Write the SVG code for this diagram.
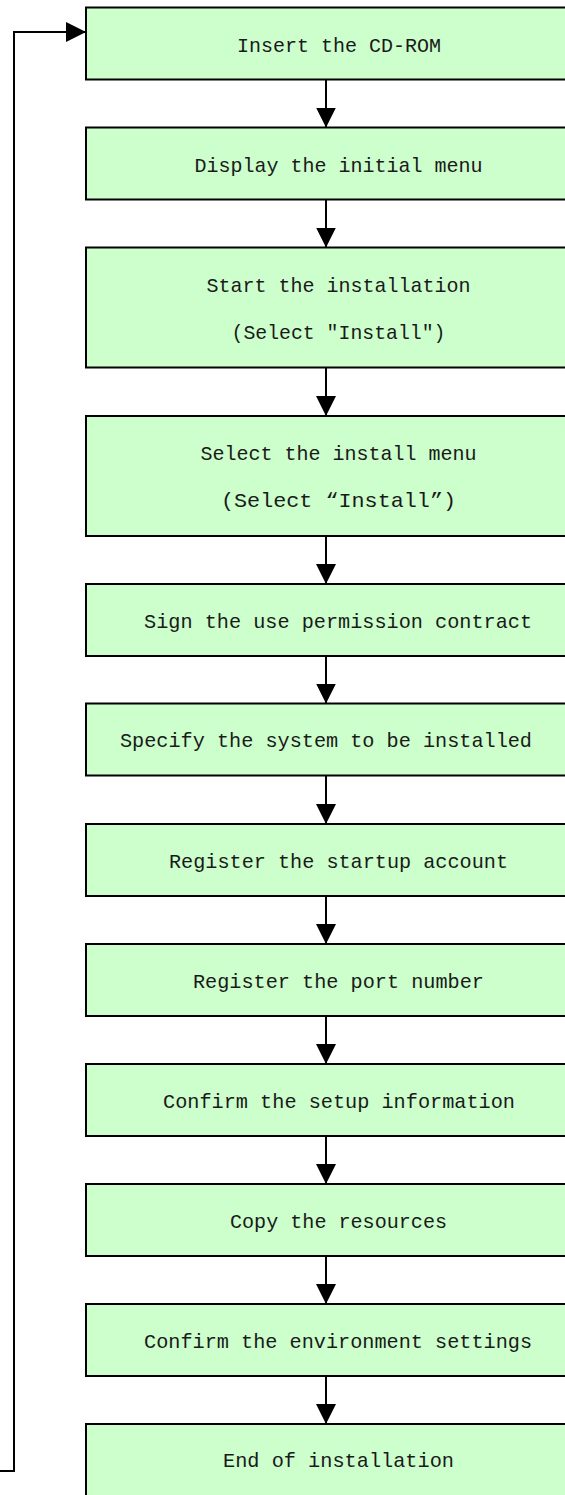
<svg xmlns="http://www.w3.org/2000/svg" width="565" height="1495" viewBox="0 0 565 1495">
<style>
.box{fill:#CCFFCC;stroke:#000;stroke-width:2}
.t{font-family:"Liberation Mono","DejaVu Sans Mono",monospace;font-size:21px;fill:#1a1a1a;text-anchor:middle}
.ln{fill:none;stroke:#000;stroke-width:2}
</style>
<defs>
<marker id="ah" markerWidth="20" markerHeight="20" refX="20" refY="10" orient="auto" markerUnits="userSpaceOnUse" viewBox="0 0 20 20">
<path d="M0,0 L20,10 L0,20 Z" fill="#000"/>
</marker>
</defs>
<rect width="565" height="1495" fill="#fff"/>
<g id="connectors">
<path class="ln" d="M0,1471 H14 V32 H86" marker-end="url(#ah)"/>
<path class="ln" d="M326,79.5 V127.5" marker-end="url(#ah)"/>
<path class="ln" d="M326,199.5 V247.5" marker-end="url(#ah)"/>
<path class="ln" d="M326,367.5 V416" marker-end="url(#ah)"/>
<path class="ln" d="M326,536 V584" marker-end="url(#ah)"/>
<path class="ln" d="M326,656 V703.5" marker-end="url(#ah)"/>
<path class="ln" d="M326,775.5 V824" marker-end="url(#ah)"/>
<path class="ln" d="M326,896 V944" marker-end="url(#ah)"/>
<path class="ln" d="M326,1016 V1064" marker-end="url(#ah)"/>
<path class="ln" d="M326,1136 V1184" marker-end="url(#ah)"/>
<path class="ln" d="M326,1256 V1304" marker-end="url(#ah)"/>
<path class="ln" d="M326,1376 V1424" marker-end="url(#ah)"/>
</g>
<g id="n1"><rect class="box" x="86" y="7.5" width="505" height="72"/><text class="t" x="339" y="52" textLength="204" lengthAdjust="spacingAndGlyphs">Insert the CD-ROM</text></g>
<g id="n2"><rect class="box" x="86" y="127.5" width="505" height="72"/><text class="t" x="338.5" y="172" textLength="288" lengthAdjust="spacingAndGlyphs">Display the initial menu</text></g>
<g id="n3"><rect class="box" x="86" y="247.5" width="505" height="120"/><text class="t" x="338.5" y="292" textLength="264" lengthAdjust="spacingAndGlyphs">Start the installation</text><text class="t" x="338.5" y="339" textLength="214" lengthAdjust="spacingAndGlyphs">(Select ″Install″)</text></g>
<g id="n4"><rect class="box" x="86" y="416" width="505" height="120"/><text class="t" x="338.5" y="460" textLength="276" lengthAdjust="spacingAndGlyphs">Select the install menu</text><text class="t" x="338.5" y="507" textLength="235" lengthAdjust="spacingAndGlyphs">(Select “Install”)</text></g>
<g id="n5"><rect class="box" x="86" y="584" width="505" height="72"/><text class="t" x="338" y="628" textLength="388" lengthAdjust="spacingAndGlyphs">Sign the use permission contract</text></g>
<g id="n6"><rect class="box" x="86" y="703.5" width="505" height="72"/><text class="t" x="326" y="747" textLength="412" lengthAdjust="spacingAndGlyphs">Specify the system to be installed</text></g>
<g id="n7"><rect class="box" x="86" y="824" width="505" height="72"/><text class="t" x="338.5" y="868" textLength="339" lengthAdjust="spacingAndGlyphs">Register the startup account</text></g>
<g id="n8"><rect class="box" x="86" y="944" width="505" height="72"/><text class="t" x="338.5" y="988" textLength="291" lengthAdjust="spacingAndGlyphs">Register the port number</text></g>
<g id="n9"><rect class="box" x="86" y="1064" width="505" height="72"/><text class="t" x="339" y="1108" textLength="352" lengthAdjust="spacingAndGlyphs">Confirm the setup information</text></g>
<g id="n10"><rect class="box" x="86" y="1184" width="505" height="72"/><text class="t" x="338.5" y="1228" textLength="217" lengthAdjust="spacingAndGlyphs">Copy the resources</text></g>
<g id="n11"><rect class="box" x="86" y="1304" width="505" height="72"/><text class="t" x="338" y="1348" textLength="388" lengthAdjust="spacingAndGlyphs">Confirm the environment settings</text></g>
<g id="n12"><rect class="box" x="86" y="1424" width="505" height="90"/><text class="t" x="338.5" y="1467" textLength="231" lengthAdjust="spacingAndGlyphs">End of installation</text></g>
</svg>
